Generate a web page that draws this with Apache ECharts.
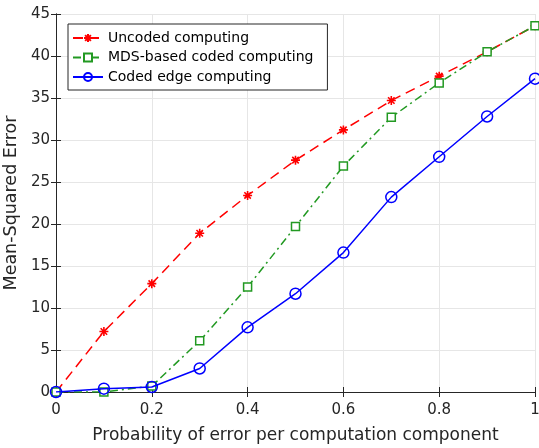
<!DOCTYPE html>
<html><head><meta charset="utf-8">
<script src="https://cdn.jsdelivr.net/npm/echarts@6/dist/echarts.min.js"></script>
<style>html,body{margin:0;padding:0;background:#fff}#c{width:539px;height:448px}</style>
</head><body><div id="c"></div>
<script>
const xValues = [0, 0.1, 0.2, 0.3, 0.4, 0.5, 0.6, 0.7, 0.8, 0.9, 1.0];
const uncoded = [0, 7.2, 12.9, 18.9, 23.4, 27.6, 31.2, 34.7, 37.6, 40.5, 43.6];
const mdsCoded = [0, 0, 0.7, 6.1, 12.5, 19.7, 26.9, 32.7, 36.8, 40.5, 43.6];
const edgeCoded = [0, 0.4, 0.6, 2.8, 7.7, 11.7, 16.6, 23.2, 28.0, 32.8, 37.3];
const seriesNames = ['Uncoded computing', 'MDS-based coded computing', 'Coded edge computing'];
const xTicks = [0, 0.2, 0.4, 0.6, 0.8, 1];
const yTicks = [0, 5, 10, 15, 20, 25, 30, 35, 40, 45];
const xTitle = 'Probability of error per computation component';
const yTitle = 'Mean-Squared Error';

const FONT = '"DejaVu Sans", sans-serif';
const axisCol = '#262626';
const star = 'path://M0,-5L0,5M-5,0L5,0M-3.6,-3.6L3.6,3.6M-3.6,3.6L3.6,-3.6';
const pairs = arr => xValues.map((x, i) => [x, arr[i]]);

const chart = echarts.init(document.getElementById('c'), null, {renderer: 'canvas'});
const baseX = {
  type: 'value', min: 0, max: 1, interval: 0.2,
  axisLine: {lineStyle: {color: axisCol, width: 1}},
  axisTick: {inside: true, length: 5, lineStyle: {color: axisCol}},
  splitLine: {show: false}
};
const baseY = {
  type: 'value', min: 0, max: 45, interval: 5,
  axisLine: {lineStyle: {color: axisCol, width: 1}},
  axisTick: {inside: true, length: 5, lineStyle: {color: axisCol}},
  splitLine: {show: false}
};
chart.setOption({
  animation: false,
  backgroundColor: '#fff',
  textStyle: {fontFamily: FONT},
  grid: {left: 56, right: 4, top: 14, bottom: 56, containLabel: false, outerBoundsMode: 'none'},
  xAxis: [
    Object.assign({}, baseX, {
      position: 'bottom',
      splitLine: {show: true, lineStyle: {color: '#e6e6e6', width: 1}},
      axisLabel: {color: axisCol, fontSize: 15, margin: 11, fontFamily: FONT,
        formatter: v => xTicks.includes(+v.toFixed(1)) ? String(+v.toFixed(1)) : ''},
      name: xTitle, nameLocation: 'middle', nameGap: 35,
      nameTextStyle: {color: axisCol, fontSize: 17, fontFamily: FONT}
    }),
    Object.assign({}, baseX, {position: 'top', axisLabel: {show: false}})
  ],
  yAxis: [
    Object.assign({}, baseY, {
      position: 'left',
      splitLine: {show: true, lineStyle: {color: '#e6e6e6', width: 1}},
      axisLabel: {color: axisCol, fontSize: 15, margin: 6, fontFamily: FONT,
        formatter: v => yTicks.includes(v) ? String(v) : ''},
      name: yTitle, nameLocation: 'middle', nameGap: 31,
      nameTextStyle: {color: axisCol, fontSize: 17.5, fontFamily: FONT}
    }),
    Object.assign({}, baseY, {position: 'right', axisLabel: {show: false}})
  ],
  legend: {
    orient: 'vertical', left: 68, top: 24,
    backgroundColor: '#fff',
    borderColor: axisCol, borderWidth: 1, borderRadius: 0,
    padding: [7, 14, 6, 4],
    itemWidth: 30, itemHeight: 10, itemGap: 5.5,
    textStyle: {color: '#000', fontSize: 14, fontFamily: FONT},
    data: seriesNames
  },
  series: [
    {
      name: seriesNames[0], type: 'line', data: pairs(uncoded),
      symbol: star, symbolSize: 9, showSymbol: true,
      lineStyle: {color: '#ff0000', width: 1.5, type: [10, 6]},
      itemStyle: {color: '#ff0000', borderColor: '#ff0000', borderWidth: 1.6},
      z: 2
    },
    {
      name: seriesNames[1], type: 'line', data: pairs(mdsCoded),
      symbol: 'rect', symbolSize: 8,
      lineStyle: {color: '#229922', width: 1.5, type: [8, 4, 2, 4]},
      itemStyle: {color: '#fff', borderColor: '#229922', borderWidth: 1.5},
      z: 3
    },
    {
      name: seriesNames[2], type: 'line', data: pairs(edgeCoded),
      symbol: 'circle', symbolSize: 11,
      lineStyle: {color: '#0000ff', width: 1.5, type: 'solid'},
      itemStyle: {color: 'rgba(255,255,255,0)', borderColor: '#0000ff', borderWidth: 1.5},
      z: 4
    }
  ]
});
</script></body></html>
